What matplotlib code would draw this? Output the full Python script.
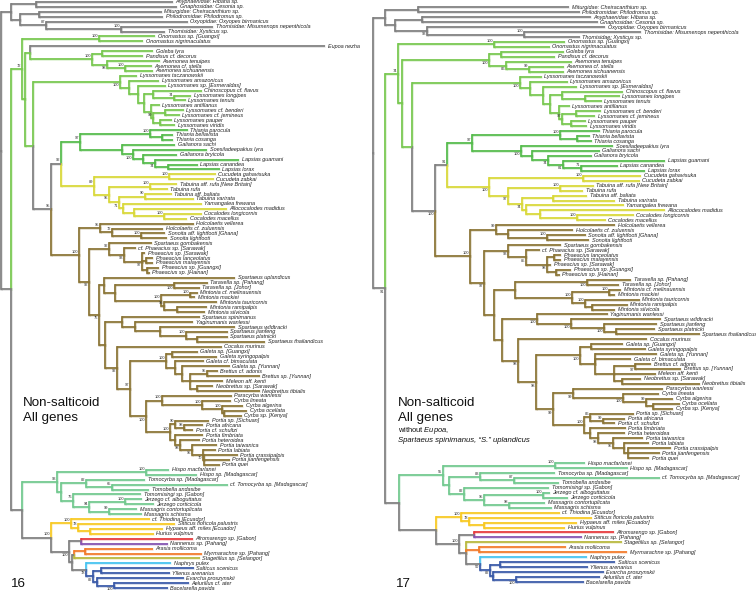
import matplotlib
matplotlib.use("Agg")
import matplotlib.pyplot as plt

plt.rcParams['font.family'] = ['Liberation Sans', 'DejaVu Sans']
plt.rcParams['mathtext.fontset'] = 'custom'
plt.rcParams['mathtext.rm'] = 'Liberation Sans'
plt.rcParams['mathtext.it'] = 'Liberation Sans:italic'

GRAY = '#808080'
LIME = '#78c850'
GREEN = '#55bb4c'
YELLOW = '#d9d838'
BROWN = '#8b7536'
TEAL = '#72c98f'
GOLD = '#f8c922'
RED = '#e6393c'
PURPLE = '#8452b0'
ORANGE = '#f27a2a'
OLIVE = '#b8b83c'
CYAN = '#45c3f0'
BLUE = '#3a5aa8'


def N(x, *kids, c=None, s=None, low=False):
    return dict(x=x, kids=kids, c=c, s=s, low=low)


def L(name, x, c=None):
    return dict(x=x, name=name, c=c)


# figure 16, x values are branch ends in pixels
outgroup_16 = N(11,
    N(36, L("Anyphaenidae: Hibana sp.", 173), L("Gnaphosidae: Cesonia sp.", 177)),
    N(20,
      N(39, L("Miturgidae: Cheiracanthium sp.", 162), L("Philodromidae: Philodromus sp.", 163)),
      N(46, L("Oxyopidae: Oxyopes birmanicus", 188),
        N(121, L("Thomisidae: Misumenops nepenthicola", 213), L("Thomisidae: Xysticus sp.", 165), s=100), s=87)),
    c=GRAY)

lysso_16 = N(120, L("Lyssomanes taczanowskii", 137),
    N(129, L("Lyssomanes amazonicus", 159),
      N(138, L("Lyssomanes sp. [Esmeraldas]", 166),
        N(144,
          N(153, L("Chinoscopus cf. flavus", 202),
            N(174, L("Lyssomanes longipes", 191), L("Lyssomanes tenuis", 186), s=74)),
          N(151, L("Lyssomanes antillanus", 160),
            N(153,
              N(165, L("Lyssomanes cf. benderi", 184), L("Lyssomanes cf. jemineus", 180)),
              N(160, L("Lyssomanes pauper", 172), L("Lyssomanes viridis", 175)), s=99))))),
    s=100, low=True)

asemonea_16 = N(92,
    N(102, L("Goleba lyra", 153), L("Pandisus cf. decorus", 143)),
    N(107, L("Asemonea tenuipes", 160),
      N(125, L("Asemonea cf. stella", 152), L("Asemonea sichuanensis", 153), s=100), s=98, low=True),
    s=100)

thiania_16 = N(80,
    N(150, L("Thiania parocula", 188),
      N(162, L("Thiania bellavista", 173), L("Thiania cosanga", 173)), s=100),
    N(122, L("Galianora sachi", 175),
      N(133, L("Soesiladeepakius lyra", 207),
        N(143, L("Galianora bryicola", 177),
          N(155, L("Lapsias guamani", 239),
            N(168, L("Lapsias canandea", 198), L("Lapsias lorax", 220)), s=74, low=True)), s=100, low=True)),
    c=GREEN, s=97)

yellow_16 = N(94,
    N(169, L("Cucudeta gahavisuka", 216), L("Cucudeta zabkai", 214), s=100, low=False),
    N(109,
      N(150, L("Tabuina aff. rufa [New Britain]", 177), L("Tabuina rufa", 168), s=100),
      N(119,
        N(145, L("Tabuina aff. baliata", 172), L("Tabuina varirata", 194), s=90),
        N(123, L("Yamangalea frewana", 202),
          N(134, L("Allococalodes madidus", 227),
            N(164, L("Cocalodes longicornis", 202), L("Cocalodes macellus", 187), s=100))), s=71, low=True),
      s=95, low=True),
    c=YELLOW, s=89)

holco_16 = N(100, L("Holcolaetis vellerea", 194),
    N(112, L("Holcolaetis cf. zuluensis", 163),
      N(141, L("Sonoita aff. lightfooti [Ghana]", 165), L("Sonoita lightfooti", 167), s=100), s=72), s=95)

phaeacius_16 = N(109, L("Spartaeus gombakensis", 152),
    N(124, L("cf. Phaeacius sp. [Sarawak]", 136),
      N(142, L("Phaeacius sp. [Sarawak]", 145),
        N(146, L("Phaeacius lanceolatus", 153), L("Phaeacius malayensis", 153)),
        N(147, L("Phaeacius sp. [Guangxi]", 159), L("Phaeacius sp. [Hainan]", 150)), s=97, low=True),
      s=93, low=True), s=92)

mintonia_16 = N(115,
    N(174, L("Taraxella sp. [Pahang]", 208), L("Taraxella sp. [Johor]", 200), s=100, low=True),
    N(161,
      N(190, L("Mintonia cf. melinauensis", 198), L("Mintonia mackiei", 195), s=100),
      N(164, L("Mintonia tauricornis", 217),
        N(177, L("Mintonia ramipalpis", 207), L("Mintonia silvicola", 205)), s=95), s=100))

spartaeus_16 = N(122, L("Spartaeus spinimanus", 200),
    N(135, L("Yaginumanis wanlessi", 193),
      N(160, L("Spartaeus wildtracki", 235),
        N(186, L("Spartaeus jianfeng", 228),
          N(197, L("Spartaeus platnicki", 228), L("Spartaeus thailandicus", 265)), s=100))))

galeta_16 = N(166,
    N(172, L("Galeta sp. [Guangxi]", 198), L("Galeta syringopalpis", 217)),
    N(175, L("Galeta cf. bimaculata", 204),
      N(182, L("Galeta sp. [Yunnan]", 230),
        N(190,
          N(207, L("Brettus cf. adonis", 218), L("Brettus sp. [Yunnan]", 260), s=95),
          L("Meleon aff. kenti", 223),
          N(197, L("Neobrettus sp. [Sarawak]", 213), L("Neobrettus tibialis", 260))))),
    s=100)

cyrba_16 = N(162, L("Paracyrba wanlessi", 232),
    N(202, L("Cyrba lineata", 231),
      N(222, L("Cyrba algerina", 243),
        N(224, L("Cyrba ocellata", 247), L("Cyrba sp. [Kenya]", 242)), s=100), s=100), s=100)

portia_16 = N(170,
    N(175, L("Portia sp. [Sichuan]", 209),
      N(184, L("Portia africana", 203), L("Portia cf. schultzi", 193), s=98), s=90),
    N(175, L("Portia fimbriata", 203),
      N(180, L("Portia heteroidea", 200),
        N(192, L("Portia taiwanica", 217),
          N(203, L("Portia labiata", 216),
            N(204, L("Portia crassipalpis", 238), L("Portia jianfengensis", 230), L("Portia quei", 220)),
            s=70, low=True), s=95, low=True), s=98, low=True)),
    s=100)

brown_16 = N(79, holco_16,
    N(89, phaeacius_16,
      N(99,
        N(104, L("Spartaeus uplandicus", 235), mintonia_16),
        N(105, spartaeus_16,
          N(117, L("Cocalus murinus", 222),
            N(130, galeta_16, N(146, cyrba_16, portia_16, s=100, low=True), s=97), s=92, low=True)),
        s=75, low=True), s=92, low=True),
    c=BROWN, s=100)

teal_16 = N(57,
    N(146, L("Hispo macfarlanei", 169), L("Hispo sp. [Madagascar]", 197), s=100),
    N(61,
      N(86, L("Tomocyrba sp. [Madagascar]", 145),
        N(112, L("cf. Tomocyrba sp. [Madagascar]", 228), L("Tomobella andasibe", 149), s=65), s=82),
      N(73, L("Tomomisingi sp. [Gabon]", 141),
        N(89,
          N(125, L("Jerzego cf. alboguttatus", 142), L("Jerzego corticicola", 154), s=100),
          N(109, L("Massagris contortuplicata", 137), L("Massagris schisma", 142), s=99), s=94, low=False),
        s=76)),
    c=TEAL, s=93)

gold_16 = N(71, L("cf. Thiodina [Ecuador]", 150),
    N(78, L("Sitticus floricola palustris", 175),
      N(90, L("Hypaeus aff. miles [Ecuador]", 163), L("Hurius vulpinus", 154)), s=78),
    c=GOLD, s=100)

salt_16 = N(86, L("Naphrys pulex", 171, c=CYAN),
    N(93,
      N(101, L("Salticus scenicus", 194), L("Yllenus arenarius", 170)),
      N(97, L("Evarcha proszynskii", 184),
        N(114, L("Aelurillus cf. ater", 189), L("Bacelarella pavida", 168), s=100, low=True)),
      s=82, low=True, c=BLUE), s=78, low=True)

tree_16 = N(1, outgroup_16,
    N(11,
      N(22,
        N(99, L("Onomastus sp. [Guangxi]", 155), L("Onomastus nigrimaculatus", 143), s=100),
        N(25,
          N(30, L("Eupoa nezha", 325, c=GRAY), asemonea_16),
          N(33, lysso_16,
            N(51,
              N(61, thiania_16, yellow_16, c=GRAY, s=92),
              brown_16, c=GRAY, s=95))),
        c=LIME, s=72),
      N(22, teal_16,
        N(51, gold_16,
          N(69,
            N(81, L("Afromarengo sp. [Gabon]", 193, c=RED), L("Nannenus sp. [Pahang]", 168, c=PURPLE)),
            N(72,
              N(74,
                N(85, L("Arasia mollicoma", 153), L("Myrmarachne sp. [Pahang]", 202), c=ORANGE),
                L("Stagetillus sp. [Selangor]", 200, c=OLIVE)),
              salt_16), s=100, low=True),
          s=100), c=GRAY)),
    c=GRAY)

# figure 17, same branches without the three removed taxa
outgroup_17 = N(7,
    N(40, L("Miturgidae: Cheiracanthium sp.", 191), L("Philodromidae: Philodromus sp.", 202)),
    N(17,
      N(44, L("Anyphaenidae: Hibana sp.", 213), L("Gnaphosidae: Cesonia sp.", 220)),
      N(49, L("Oxyopidae: Oxyopes birmanicus", 227),
        N(146, L("Thomisidae: Misumenops nepenthicola", 263), L("Thomisidae: Xysticus sp.", 202), s=100),
        s=93, low=True)),
    c=GRAY)

lysso_17 = N(142, L("Lyssomanes taczanowskii", 164),
    N(152, L("Lyssomanes amazonicus", 190),
      N(165, L("Lyssomanes sp. [Esmeraldas]", 199),
        N(172,
          N(184, L("Chinoscopus cf. flavus", 245),
            N(207, L("Lyssomanes longipes", 242), L("Lyssomanes tenuis", 224))),
          N(181, L("Lyssomanes antillanus", 192),
            N(184,
              N(198, L("Lyssomanes cf. benderi", 223), L("Lyssomanes cf. jemineus", 217)),
              N(193, L("Lyssomanes pauper", 208), L("Lyssomanes viridis", 209)), s=97))))),
    s=100, low=True)

asemonea_17 = N(111,
    N(123, L("Goleba lyra", 186), L("Pandisus cf. decorus", 177)),
    N(128, L("Asemonea tenuipes", 194),
      N(151, L("Asemonea cf. stella", 186), L("Asemonea sichuanensis", 186), s=99), s=86, low=True),
    s=100, low=True)

thiania_17 = N(94,
    N(182, L("Thiania parocula", 222),
      N(199, L("Thiania bellavista", 212), L("Thiania cosanga", 214)), s=100),
    N(143, L("Soesiladeepakius lyra", 235),
      N(154, L("Galianora sachi", 222),
        N(170, L("Galianora bryicola", 214),
          N(185, L("Lapsias guamani", 287),
            N(203, L("Lapsias canandea", 240), L("Lapsias lorax", 267), s=71),
            s=81, low=True), s=74, low=True)), s=100, low=True),
    c=GREEN, s=97)

yellow_17 = N(111,
    N(205, L("Cucudeta gahavisuka", 263), L("Cucudeta zabkai", 262), s=100),
    N(130,
      N(182, L("Tabuina aff. rufa [New Britain]", 216), L("Tabuina rufa", 205), s=100),
      N(144,
        N(175, L("Tabuina aff. baliata", 209), L("Tabuina varirata", 237)),
        N(148, L("Yamangalea frewana", 246),
          N(162, L("Allococalodes madidus", 287),
            N(199, L("Cocalodes longicornis", 256), L("Cocalodes macellus", 228), s=100))), s=74, low=True),
      s=97, low=True),
    c=YELLOW, s=100, low=True)

holco_17 = N(118, L("Holcolaetis vellerea", 237),
    N(130, L("Holcolaetis cf. zuluensis", 195),
      N(169, L("Sonoita aff. lightfooti [Ghana]", 208), L("Sonoita lightfooti", 211), s=100)), s=99)

phaeacius_17 = N(130, L("Spartaeus gombakensis", 183),
    N(148, L("cf. Phaeacius sp. [Sarawak]", 162),
      N(169,
        N(176, L("Phaeacius lanceolatus", 183), L("Phaeacius malayensis", 183)),
        L("Phaeacius sp. [Sarawak]", 173),
        N(178, L("Phaeacius sp. [Guangxi]", 193), L("Phaeacius sp. [Hainan]", 182)), s=98, low=True),
      s=85, low=True), s=93, low=True)

mintonia_17 = N(137,
    N(209, L("Taraxella sp. [Pahang]", 253), L("Taraxella sp. [Johor]", 241), s=100, low=True),
    N(194,
      N(231, L("Mintonia cf. melinauensis", 243), L("Mintonia mackiei", 237), s=100),
      N(207, L("Mintonia tauricornis", 262),
        N(214, L("Mintonia ramipalpis", 250), L("Mintonia silvicola", 237)), s=100), s=100))

spartaeus_17 = N(159, L("Yaginumanis wanlessi", 230),
    N(193, L("Spartaeus wildtracki", 283),
      N(226, L("Spartaeus jianfeng", 279),
        N(238, L("Spartaeus platnicki", 277), L("Spartaeus thailandicus", 322)), s=100, low=True),
      s=100, low=True), s=100, low=True)

galeta_17 = N(202,
    N(213, L("Galeta sp. [Guangxi]", 245), L("Galeta syringopalpis", 268)),
    N(217, L("Galeta sp. [Yunnan]", 279), L("Galeta cf. bimaculata", 253),
      N(236,
        N(257, L("Brettus cf. adonis", 273), L("Brettus sp. [Yunnan]", 303), s=97, low=True),
        L("Meleon aff. kenti", 278),
        N(244, L("Neobrettus sp. [Sarawak]", 263), L("Neobrettus tibialis", 322)))),
    s=100, low=True)

cyrba_17 = N(195, L("Paracyrba wanlessi", 285),
    N(245, L("Cyrba lineata", 281),
      N(268, L("Cyrba algerina", 295),
        N(275, L("Cyrba ocellata", 302), L("Cyrba sp. [Kenya]", 295)), s=99), s=100, low=True),
    s=99, low=True)

portia_17 = N(206,
    N(212, L("Portia sp. [Sichuan]", 256),
      N(225, L("Portia africana", 247), L("Portia cf. schultzi", 237), s=99), s=86),
    N(212, L("Portia fimbriata", 248),
      N(220, L("Portia heteroidea", 247),
        N(235, L("Portia taiwanica", 265),
          N(246, L("Portia labiata", 271),
            N(250, L("Portia crassipalpis", 293), L("Portia jianfengensis", 282), L("Portia quei", 271))),
          s=95, low=True), s=98, low=True)),
    s=100)

brown_17 = N(92, holco_17,
    N(106, phaeacius_17,
      N(116, mintonia_17,
        N(124, spartaeus_17,
          N(140, L("Cocalus murinus", 269),
            N(158, galeta_17, N(175, cyrba_17, portia_17, s=99, low=True), s=98, low=True),
            s=98, low=True))),
      s=97, low=True),
    c=BROWN, s=100)

teal_17 = N(65,
    N(177, L("Hispo macfarlanei", 207), L("Hispo sp. [Madagascar]", 250), s=100),
    N(71,
      N(102, L("Tomocyrba sp. [Madagascar]", 177),
        N(136, L("cf. Tomocyrba sp. [Madagascar]", 282), L("Tomobella andasibe", 181), s=87), s=83),
      N(86, L("Tomomisingi sp. [Gabon]", 171),
        N(106,
          N(165, L("Jerzego cf. alboguttatus", 172), L("Jerzego corticicola", 190), s=100),
          N(131, L("Massagris contortuplicata", 167), L("Massagris schisma", 174), s=98), s=95),
        s=82)),
    c=TEAL, s=55)

gold_17 = N(83, L("cf. Thiodina [Ecuador]", 182),
    N(91, L("Sitticus floricola palustris", 214),
      N(106, L("Hypaeus aff. miles [Ecuador]", 199), L("Hurius vulpinus", 187)), s=78),
    c=GOLD, s=100)

salt_17 = N(102, L("Naphrys pulex", 209, c=CYAN),
    N(112,
      N(122, L("Salticus scenicus", 237), L("Yllenus arenarius", 210)),
      N(115, L("Evarcha proszynskii", 226),
        N(138, L("Aelurillus cf. ater", 222), L("Bacelarella pavida", 206), s=100, low=True)),
      s=82, low=True, c=BLUE), s=50, low=True)

tree_17 = N(-5, outgroup_17,
    N(7,
      N(20,
        N(116, L("Onomastus sp. [Guangxi]", 187), L("Onomastus nigrimaculatus", 172), s=100),
        N(24, asemonea_17,
          N(34, lysso_17,
            N(57,
              N(69, thiania_17, yellow_17, c=GRAY, s=91),
              brown_17, c=GRAY, s=100, low=True))),
        c=LIME, s=74),
      N(21, teal_17,
        N(58, gold_17,
          N(81,
            N(96, L("Afromarengo sp. [Gabon]", 236, c=RED), L("Nannenus sp. [Pahang]", 204, c=PURPLE)),
            N(88, L("Stagetillus sp. [Selangor]", 244, c=OLIVE),
              N(101, L("Arasia mollicoma", 188), L("Myrmarachne sp. [Pahang]", 249), c=ORANGE),
              salt_17), s=100)),
        c=GRAY),
      s=91, low=True),
    c=GRAY)


def count(n):
    if 'name' in n:
        return 1
    return sum(count(k) for k in n['kids'])


def seg(ax, xs, ys, col, cap):
    # pale halo under each branch, the reference lines have one
    ax.plot(xs, ys, color=col, lw=2.0, alpha=0.22, solid_capstyle=cap, zorder=1)
    ax.plot(xs, ys, color=col, lw=1.25, solid_capstyle=cap, zorder=2)


def draw(ax, n, px, col, st):
    col = n['c'] or col
    x = n['x'] + st['off']
    if 'name' in n:
        y = st['y']
        st['y'] += st['dy']
        seg(ax, [px, x], [y, y], col, 'butt')
        ax.text(x + 2.5, y, n['name'], fontsize=4.0, style='italic', color='#222222',
                va='center', ha='left', zorder=3)
        return y, col
    res = [draw(ax, k, x, col, st) for k in n['kids']]
    y = (res[0][0] + res[-1][0]) / 2
    for ky, kc in res:
        seg(ax, [x, x], [y, ky], kc, 'projecting')
    if px is not None:
        seg(ax, [px, x], [y, y], col, 'butt')
    if n['s'] is not None:
        if n['low']:
            ax.text(x - 1, y + 1.2, str(n['s']), fontsize=2.9, color='#333333', ha='right', va='top')
        else:
            ax.text(x - 1, y - 1.2, str(n['s']), fontsize=2.9, color='#333333', ha='right', va='bottom')
    return y, col


fig = plt.figure(figsize=(7.56, 5.91), dpi=100)
ax = fig.add_axes([0, 0, 1, 1])
ax.set_xlim(0, 756)
ax.set_ylim(591, 0)
ax.axis('off')

draw(ax, tree_16, None, GRAY, dict(off=0, y=2.0, dy=(588.0 - 2.0) / (count(tree_16) - 1)))
draw(ax, tree_17, None, GRAY, dict(off=378, y=7.3, dy=(582.0 - 7.3) / (count(tree_17) - 1)))

ax.text(23, 403, "Non-salticoid", fontsize=9.6, color='#111111', va='center')
ax.text(23, 418, "All genes", fontsize=9.6, color='#111111', va='center')
ax.text(11, 584, "16", fontsize=9.6, color='#111111', va='center')
ax.text(398, 403, "Non-salticoid", fontsize=9.6, color='#111111', va='center')
ax.text(398, 418, "All genes", fontsize=9.6, color='#111111', va='center')
ax.text(398, 430, "without $\\mathit{Eupoa}$,", fontsize=5.4, color='#111111', va='center')
ax.text(398, 440, "Spartaeus spinimanus, \u201cS.\u201d uplandicus", fontsize=5.6, style='italic',
        color='#111111', va='center')
ax.text(396, 584, "17", fontsize=9.6, color='#111111', va='center')

fig.savefig("out.png", dpi=100)
